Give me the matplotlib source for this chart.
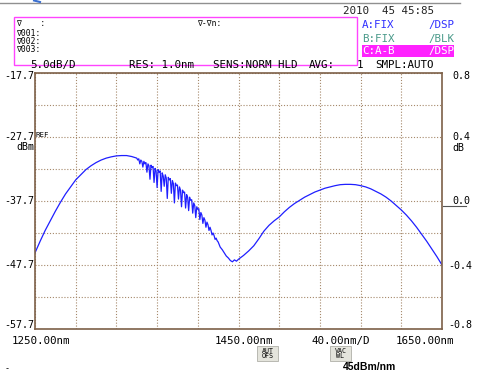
import matplotlib
matplotlib.use("Agg")
import matplotlib.pyplot as plt
from matplotlib.patches import Rectangle

# ---------------- data ----------------
wl_left = [1250, 1255, 1260, 1265, 1270, 1275, 1280, 1285, 1290, 1295, 1300,
           1305, 1310, 1315, 1320, 1325, 1330, 1335, 1340, 1345]
db_left = [-45.8, -44.0, -42.3, -40.8, -39.3, -37.9, -36.6, -35.5, -34.4, -33.6, -32.8,
           -32.2, -31.7, -31.3, -31.0, -30.8, -30.65, -30.6, -30.6, -30.75]

wl_noisy = list(range(1350, 1431)) + [1432, 1434, 1436, 1438, 1440, 1442, 1444, 1446, 1448, 1450]
db_noisy = [-31.0, -31.3, -31.1, -31.9, -31.3, -31.5, -32.4, -31.5, -31.9, -31.7,
            -33.2, -31.9, -32.2, -34.3, -32.1, -32.5, -32.3, -34.8, -32.6, -33.0,
            -35.6, -32.8, -33.2, -33.0, -36.2, -33.3, -33.8, -35.4, -33.6, -34.1,
            -37.3, -34.0, -34.4, -34.2, -36.5, -34.5, -35.0, -38.0, -34.9, -35.3,
            -35.2, -37.4, -35.5, -36.0, -38.6, -36.0, -36.4, -36.3, -38.8, -36.7,
            -37.1, -39.2, -37.1, -37.6, -37.5, -39.6, -38.0, -38.4, -40.3, -38.6,
            -39.0, -38.9, -40.6, -39.5, -39.9, -41.2, -40.3, -40.7, -41.8, -41.0,
            -41.4, -42.3, -41.8, -42.3, -43.0, -42.7, -43.1, -43.7, -43.5, -43.9,
            -44.1,
            -44.9, -45.3, -45.8, -46.3, -46.6, -47.0, -47.2, -46.9, -47.1, -46.8]

wl_right = [1455, 1460, 1465, 1470, 1475, 1480, 1485, 1490, 1495, 1500, 1505,
            1510, 1515, 1520, 1525, 1530, 1535, 1540, 1545, 1550, 1555,
            1560, 1565, 1570, 1575, 1580, 1585, 1590, 1595, 1600, 1605,
            1610, 1615, 1620, 1625, 1630, 1635, 1640, 1645, 1650]
db_right = [-46.2, -45.5, -44.7, -43.6, -42.4, -41.5, -40.8, -40.2, -39.4, -38.7, -38.1,
            -37.6, -37.1, -36.7, -36.3, -36.0, -35.7, -35.5, -35.3, -35.15, -35.1,
            -35.1, -35.15, -35.3, -35.5, -35.8, -36.2, -36.6, -37.1, -37.7, -38.4,
            -39.1, -39.9, -40.8, -41.8, -42.9, -44.0, -45.2, -46.4, -47.7]

y_left_labels = ["-17.7", "-27.7", "-37.7", "-47.7", "-57.7"]
y_right_labels = ["0.8", "0.4", "0.0", "-0.4", "-0.8"]
x_labels = ["1250.00nm", "1450.00nm", "40.00nm/D", "1650.00nm"]

W, H = 487, 376
fig = plt.figure(figsize=(W / 100, H / 100), dpi=100)
fig.patch.set_facecolor("white")

MONO = "DejaVu Sans Mono"
FS = 7.2


def T(x, y, s, **kw):
    kw.setdefault("family", MONO)
    kw.setdefault("fontsize", FS)
    kw.setdefault("va", "center")
    return fig.text(x / W, 1 - y / H, s, **kw)


# ---------------- main axes ----------------
L, R, TOP, BOT = 35, 442, 73, 329
ax = fig.add_axes([L / W, 1 - BOT / H, (R - L) / W, (BOT - TOP) / H])
wl = wl_left + wl_noisy + wl_right
db = db_left + db_noisy + db_right
ax.plot(wl, db, color="#1f1fff", lw=0.9)
ax.set_xlim(1250, 1650)
ax.set_ylim(-57.7, -17.7)
ax.set_xticks([1250 + 40 * i for i in range(11)])
ax.set_yticks([-57.7 + 5 * i for i in range(9)])
ax.grid(True, color="#a5886a", linestyle=(0, (1, 1.6)), lw=0.8)
ax.tick_params(length=0, labelbottom=False, labelleft=False)
for s in ax.spines.values():
    s.set_color("#7d6048")
    s.set_linewidth(1.2)

# ---------------- top header ----------------
fig.add_artist(plt.Line2D([0, 460 / W], [1 - 3 / H, 1 - 3 / H], color="#909090", lw=1.0))
fig.add_artist(plt.Line2D([34 / W, 40 / W], [1 - 0.5 / H, 1 - 2 / H], color="#3a6fd0", lw=1.5))
T(343, 11, "2010  45 45:85", fontsize=7.8, color="#222222")

fig.add_artist(Rectangle((14 / W, 1 - 65 / H), (357 - 14) / W, (65 - 17) / H,
                         fill=False, edgecolor="#ff44ff", lw=1.0, transform=fig.transFigure))
T(16, 24, "∇    :", fontsize=5.8)
T(197, 24, "∇-∇n:", fontsize=5.8)
T(16, 33, "∇001:", fontsize=5.8)
T(16, 41, "∇002:", fontsize=5.8)
T(16, 49, "∇003:", fontsize=5.8)

T(362, 25, "A:FIX", fontsize=7.8, color="#3030ff")
T(454, 25, "/DSP", fontsize=7.8, color="#3030ff", ha="right")
T(362, 39, "B:FIX", fontsize=7.8, color="#4a9a8a")
T(454, 39, "/BLK", fontsize=7.8, color="#4a9a8a", ha="right")
fig.add_artist(Rectangle((362 / W, 1 - 57 / H), (454 - 362) / W, 12 / H,
                         facecolor="#ff22ff", edgecolor="none", transform=fig.transFigure))
T(362, 51, "C:A-B", fontsize=7.8, color="white")
T(454, 51, "/DSP", fontsize=7.8, color="white", ha="right")

T(30, 65, "5.0dB/D", fontsize=7.8)
T(129, 65, "RES: 1.0nm", fontsize=7.8)
T(213, 65, "SENS:NORM HLD", fontsize=7.8)
T(309, 65, "AVG:", fontsize=7.8)
T(357, 65, "1", fontsize=7.8)
T(375, 65, "SMPL:AUTO", fontsize=7.8)

# ---------------- left / right axis labels ----------------
left_y = [76, 137, 201, 265, 325]
for lab, yy in zip(y_left_labels, left_y):
    T(34, yy, lab, ha="right")
T(36, 135, "REF", fontsize=5.3)
T(34, 147, "dBm", ha="right")

right_y = [76, 137, 201, 266, 325]
right_x = [452, 452, 452, 448, 448]
for lab, yy, xx in zip(y_right_labels, right_y, right_x):
    T(xx, yy, lab)
T(452, 148, "dB")
fig.add_artist(plt.Line2D([443 / W, 466 / W], [1 - 206 / H, 1 - 206 / H], color="#555555", lw=0.8))

# ---------------- bottom labels ----------------
bot_x = [12, 215, 311, 396]
for lab, xx in zip(x_labels, bot_x):
    T(xx, 341, lab, fontsize=7.8)

for xx, txt in [(257, "AUT\nOFS"), (330, "VAC\nWL")]:
    fig.add_artist(Rectangle((xx / W, 1 - 361 / H), 21 / W, 15 / H,
                             facecolor="#e4e4dc", edgecolor="#b0b0a8", lw=0.6,
                             transform=fig.transFigure))
    T(xx + 10.5, 353.5, txt, fontsize=4.8, ha="center", linespacing=0.9)

T(343, 367, "45dBm/nm", family="Liberation Sans", fontweight="bold", fontsize=7.5)
T(5, 369, "-", fontsize=6)

fig.savefig("out.png", dpi=100, facecolor="white")
